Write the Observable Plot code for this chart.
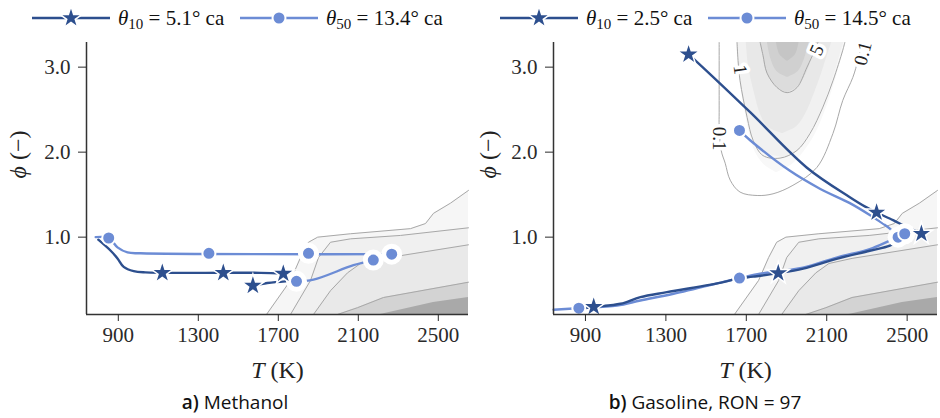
<!DOCTYPE html>
<html><head><meta charset="utf-8">
<script src="https://cdn.jsdelivr.net/npm/d3@7"></script>
<script src="https://cdn.jsdelivr.net/npm/@observablehq/plot@0.6"></script>
<style>
body{margin:0;background:#fff;width:940px;height:418px;overflow:hidden}
#fig{display:flex}
.panel{width:470px;position:relative}
.legend{height:36px;position:relative;font-family:"Liberation Serif",serif;font-size:21px;color:#111}
.legend .item{position:absolute;top:0;height:36px;display:flex;align-items:center;white-space:nowrap}
.legend .item span{margin-left:8px}
.legend sub{font-size:15px;vertical-align:-4px;line-height:0}
.caption{text-align:center;font-family:"Open Sans",sans-serif;font-size:19px;color:#111;height:32px;line-height:32px}
.caption b{font-weight:600}
</style></head><body>
<div id="fig"></div>
<script>
const DARK = "#2d4f8e", LIGHT = "#6c8cd5";
const SERIF = "Liberation Serif";
const xDomain = [741, 2651];
const yDomain = [0.09, 3.29];
const xTicks = [900, 1300, 1700, 2100, 2500];
const yTicks = [1, 2, 3];

// ---- NOx-type contour map (lower right, both panels) ----
const nox1T = [1641, 1761, 1811, 1851, 1897, 2061, 2361, 2436, 2476, 2561, 2651];
const nox1Phi = [0.09, 0.49, 0.76, 0.94, 1.0, 1.04, 1.10, 1.16, 1.28, 1.40, 1.55];
const nox2T = [1761, 1861, 1901, 1961, 2061, 2311, 2651];
const nox2Phi = [0.09, 0.49, 0.76, 0.94, 0.98, 1.02, 1.11];
const nox3T = [1876, 1961, 2046, 2111, 2226, 2651];
const nox3Phi = [0.09, 0.37, 0.58, 0.69, 0.75, 0.91];
const nox4T = [1996, 2096, 2226, 2651];
const nox4Phi = [0.09, 0.17, 0.29, 0.47];
const nox5T = [2211, 2476, 2651];
const nox5Phi = [0.09, 0.23, 0.29];
const noxFills = ["#f6f6f6", "#f0f0f0", "#e9e9e9", "#d3d3d3", "#a9a9a9"];

// ---- soot-type island (gasoline panel) ----
const sootFillPhi = [
  [3.29, 2.9, 2.5, 2.2, 2.0, 1.85, 1.76],
  [3.29, 2.84, 2.41, 2.14, 2.0, 1.94],
  [3.29, 3.0, 2.7, 2.45, 2.3, 2.22],
  [3.29, 3.14, 2.93, 2.76, 2.70],
  [3.29, 3.1, 2.95, 2.88],
  [3.29, 3.15, 3.07]
];
const sootFillLeft = [
  [1652, 1664, 1692, 1718, 1745, 1790, 1850],
  [1660, 1672, 1708, 1740, 1785, 1880],
  [1700, 1712, 1740, 1770, 1805, 1880],
  [1769, 1783, 1803, 1853, 1903],
  [1805, 1822, 1852, 1905],
  [1850, 1866, 1905]
];
const sootFillRight = [
  [2195, 2150, 2095, 2040, 1985, 1925, 1850],
  [2185, 2128, 2060, 1995, 1950, 1880],
  [2125, 2085, 2040, 1995, 1950, 1880],
  [2056, 2030, 2000, 1952, 1903],
  [2012, 1990, 1958, 1905],
  [1962, 1945, 1905]
];
const sootFills = ["#f8f8f8", "#f1f1f1", "#e8e8e8", "#dcdcdc", "#d0d0d0", "#c5c5c5"];
const soot01T = [1565, 1565, 1565, 1575, 1595, 1620, 1669, 1754, 1833, 1932, 2051, 2131, 2180, 2230, 2255, 2275];
const soot01Phi = [3.29, 2.47, 2.31, 2.02, 1.87, 1.67, 1.53, 1.49, 1.51, 1.61, 1.82, 2.22, 2.61, 2.88, 3.08, 3.29];
const soot1T = [1654, 1659, 1669, 1704, 1734, 1783, 1868, 1952, 2017, 2081, 2131, 2180, 2190];
const soot1Phi = [3.29, 3.08, 2.84, 2.41, 2.14, 1.96, 1.93, 2.02, 2.22, 2.53, 2.84, 3.20, 3.29];
const soot5T = [1769, 1783, 1803, 1853, 1903, 1952, 2002, 2041, 2056];
const soot5Phi = [3.29, 3.14, 2.93, 2.76, 2.70, 2.76, 3.00, 3.20, 3.29];
const sootLabels = ["0.1", "1", "5", "0.1"];
const sootLabelT = [1565, 1669, 2051, 2280];
const sootLabelPhi = [2.16, 2.97, 3.2, 3.16];
const sootLabelRot = [90, 82, -66, -76];

// ---- Methanol trajectories ----
const meth10MainT = [800, 862, 896, 927, 977, 1036, 1311, 1611, 1726, 1760];
const meth10MainPhi = [0.97, 0.84, 0.75, 0.65, 0.60, 0.585, 0.58, 0.58, 0.57, 0.565];
const meth10LowT = [1573, 1645, 1736, 1791];
const meth10LowPhi = [0.43, 0.46, 0.48, 0.485];
const meth10StarT = [1120, 1425, 1725, 1573];
const meth10StarPhi = [0.58, 0.58, 0.57, 0.43];
const meth50MainT = [787, 852, 896, 946, 1011, 2267];
const meth50MainPhi = [1.0, 0.99, 0.88, 0.82, 0.81, 0.80];
const meth50LowT = [1791, 1876, 2076, 2175];
const meth50LowPhi = [0.48, 0.50, 0.67, 0.73];
const meth50CircT = [852, 1353, 1851, 2267, 1791, 2175];
const meth50CircPhi = [0.99, 0.81, 0.81, 0.80, 0.48, 0.73];
const methHaloT = [1851, 2267, 1791, 2175];
const methHaloPhi = [0.81, 0.80, 0.48, 0.73];

// ---- Gasoline trajectories ----
const gas10UpT = [1413, 1446, 1719, 2000, 2215, 2298, 2348, 2430, 2497, 2571];
const gas10UpPhi = [3.15, 3.08, 2.47, 1.82, 1.47, 1.35, 1.29, 1.20, 1.12, 1.04];
const gas10LowT = [900, 941, 1074, 1173, 1305, 1586, 1650, 1735, 1859, 1983, 2149, 2314, 2414, 2470];
const gas10LowPhi = [0.165, 0.18, 0.216, 0.294, 0.353, 0.47, 0.51, 0.535, 0.576, 0.63, 0.745, 0.84, 0.90, 0.98];
const gas10StarT = [1413, 2348, 2571, 941, 1859];
const gas10StarPhi = [3.15, 1.29, 1.04, 0.18, 0.576];
const gas50UpT = [1666, 1719, 1917, 2066, 2215, 2314, 2414, 2455];
const gas50UpPhi = [2.255, 2.14, 1.78, 1.57, 1.40, 1.26, 1.10, 1.00];
const gas50LowT = [741, 867, 1057, 1173, 1338, 1666, 1769, 1982, 2149, 2314, 2414, 2455];
const gas50LowPhi = [0.146, 0.165, 0.196, 0.255, 0.334, 0.518, 0.57, 0.64, 0.76, 0.86, 0.96, 1.00];
const gas50CircT = [1666, 867, 1666, 2455, 2488];
const gas50CircPhi = [2.255, 0.165, 0.518, 1.00, 1.04];
const gasHaloT = [2455, 2488];
const gasHaloPhi = [1.00, 1.04];

const xLabel = "T (K)";
const yLabel = "ϕ (−)";

const pts = (T, P) => T.map((t, i) => ({T: t, phi: P[i]}));

function makePanel(cfg) {
  const marks = [];
  const nox = [[nox1T, nox1Phi], [nox2T, nox2Phi], [nox3T, nox3Phi], [nox4T, nox4Phi], [nox5T, nox5Phi]];
  nox.forEach(([T, P], i) => marks.push(Plot.areaY(pts(T, P), {x: "T", y1: yDomain[0], y2: "phi", fill: noxFills[i]})));
  nox.slice(0, 4).forEach(([T, P]) => marks.push(Plot.line(pts(T, P), {x: "T", y: "phi", stroke: "#a8a8a8", strokeWidth: 1})));
  if (cfg.soot) {
    sootFillPhi.forEach((P, k) => {
      const d = P.map((p, i) => ({phi: p, l: sootFillLeft[k][i], r: sootFillRight[k][i]}));
      marks.push(Plot.areaX(d, {y: "phi", x1: "l", x2: "r", fill: sootFills[k], curve: "catmull-rom"}));
    });
    [[soot01T, soot01Phi], [soot1T, soot1Phi], [soot5T, soot5Phi]].forEach(([T, P]) =>
      marks.push(Plot.line(pts(T, P), {x: "T", y: "phi", stroke: "#a8a8a8", strokeWidth: 1, curve: "catmull-rom"})));
    const lab = sootLabels.map((s, i) => ({s, T: sootLabelT[i], phi: sootLabelPhi[i], r: sootLabelRot[i]}));
    for (const d of lab) {
      marks.push(Plot.text([d], {x: "T", y: "phi", text: "s", rotate: d.r, fontSize: 19, fill: "#222",
        stroke: "white", strokeWidth: 7, fontFamily: SERIF}));
    }
  }
  cfg.lines50.forEach(([T, P]) => marks.push(Plot.line(pts(T, P), {x: "T", y: "phi", stroke: LIGHT, strokeWidth: 2.4, curve: "catmull-rom"})));
  cfg.lines10.forEach(([T, P]) => marks.push(Plot.line(pts(T, P), {x: "T", y: "phi", stroke: DARK, strokeWidth: 2.4, curve: "catmull-rom"})));
  marks.push(Plot.dot(pts(cfg.halo[0], cfg.halo[1]), {x: "T", y: "phi", r: 10.5, fill: "white"}));
  marks.push(Plot.dot(pts(cfg.stars[0], cfg.stars[1]), {x: "T", y: "phi", r: 7, symbol: "star", fill: DARK, stroke: "white", strokeWidth: 1.5}));
  marks.push(Plot.dot(pts(cfg.circ[0], cfg.circ[1]), {x: "T", y: "phi", r: 6.5, fill: LIGHT, stroke: "white", strokeWidth: 2}));
  marks.push(Plot.ruleX([xDomain[0]], {stroke: "#333", strokeWidth: 1.5}));
  marks.push(Plot.ruleY([yDomain[0]], {stroke: "#333", strokeWidth: 1.5}));
  marks.push(Plot.axisX({ticks: xTicks, tickSize: 7, tickPadding: 6, label: null, tickFormat: d => String(d), fontSize: 21, fontFamily: SERIF}));
  marks.push(Plot.axisY({ticks: yTicks, tickSize: 8, tickPadding: 8, label: null, tickFormat: d => d.toFixed(1), fontSize: 21, fontFamily: SERIF}));
  marks.push(Plot.text([xLabel], {frameAnchor: "bottom", dy: 56, text: d => d, fontSize: 24, fill: "#222", lineAnchor: "middle", fontFamily: SERIF}));
  marks.push(Plot.text([yLabel], {frameAnchor: "left", dx: -(cfg.ml - 18), text: d => d, rotate: -90, fontSize: 24, fill: "#222", lineAnchor: "middle", fontFamily: SERIF}));

  const svg = Plot.plot({
    width: 470, height: 350, marginLeft: cfg.ml, marginRight: cfg.mr, marginTop: 6, marginBottom: 72,
    x: {domain: xDomain}, y: {domain: yDomain},
    style: {fontFamily: SERIF, fontSize: "21px", color: "#2a2a2a", background: "transparent", overflow: "visible"},
    marks
  });
  svg.querySelectorAll("text").forEach(t => {
    t.style.fontFamily = '"Liberation Serif", serif';
    const s = t.textContent;
    if (s === xLabel || s === yLabel) {
      const first = s[0], rest = s.slice(1);
      t.textContent = "";
      const a = document.createElementNS("http://www.w3.org/2000/svg", "tspan");
      a.setAttribute("font-style", "italic"); a.textContent = first;
      const b = document.createElementNS("http://www.w3.org/2000/svg", "tspan");
      b.textContent = rest;
      t.append(a, b);
    }
  });
  return svg;
}

function legendSym(kind) {
  const w = 78, h = 20, c = 39;
  const size = kind === "star" ? Math.PI * 49 : Math.PI * 6.5 * 6.5;
  const path = d3.symbol(kind === "star" ? d3.symbolStar : d3.symbolCircle, size)();
  const col = kind === "star" ? DARK : LIGHT;
  return `<svg width="${w}" height="${h}" style="overflow:visible"><line x1="0" x2="${w}" y1="10" y2="10" stroke="${col}" stroke-width="2.4"/>` +
    `<path d="${path}" transform="translate(${c},10)" fill="${col}" stroke="white" stroke-width="${kind === "star" ? 1.5 : 2}"/></svg>`;
}

const panels = [
  {ml: 86, mr: 2, soot: false, leg: [[32, "star", "10", "5.1"], [240, "circle", "50", "13.4"]],
   cap: ["a)", " Methanol"],
   lines10: [[meth10MainT, meth10MainPhi], [meth10LowT, meth10LowPhi]],
   lines50: [[meth50MainT, meth50MainPhi], [meth50LowT, meth50LowPhi]],
   stars: [meth10StarT, meth10StarPhi], circ: [meth50CircT, meth50CircPhi], halo: [methHaloT, methHaloPhi]},
  {ml: 83, mr: 3, soot: true, leg: [[30, "star", "10", "2.5"], [238, "circle", "50", "14.5"]],
   cap: ["b)", " Gasoline, RON = 97"],
   lines10: [[gas10UpT, gas10UpPhi], [gas10LowT, gas10LowPhi]],
   lines50: [[gas50UpT, gas50UpPhi], [gas50LowT, gas50LowPhi]],
   stars: [gas10StarT, gas10StarPhi], circ: [gas50CircT, gas50CircPhi], halo: [gasHaloT, gasHaloPhi]}
];

const fig = document.getElementById("fig");
for (const p of panels) {
  const div = document.createElement("div"); div.className = "panel";
  const leg = document.createElement("div"); leg.className = "legend";
  leg.innerHTML = p.leg.map(([x, kind, sub, val]) =>
    `<div class="item" style="left:${x}px">${legendSym(kind)}<span><i>θ</i><sub>${sub}</sub> = ${val}° ca</span></div>`).join("");
  div.appendChild(leg);
  div.appendChild(makePanel(p));
  const cap = document.createElement("div"); cap.className = "caption";
  cap.innerHTML = `<b>${p.cap[0]}</b>${p.cap[1]}`;
  div.appendChild(cap);
  fig.appendChild(div);
}
</script>
</body></html>
